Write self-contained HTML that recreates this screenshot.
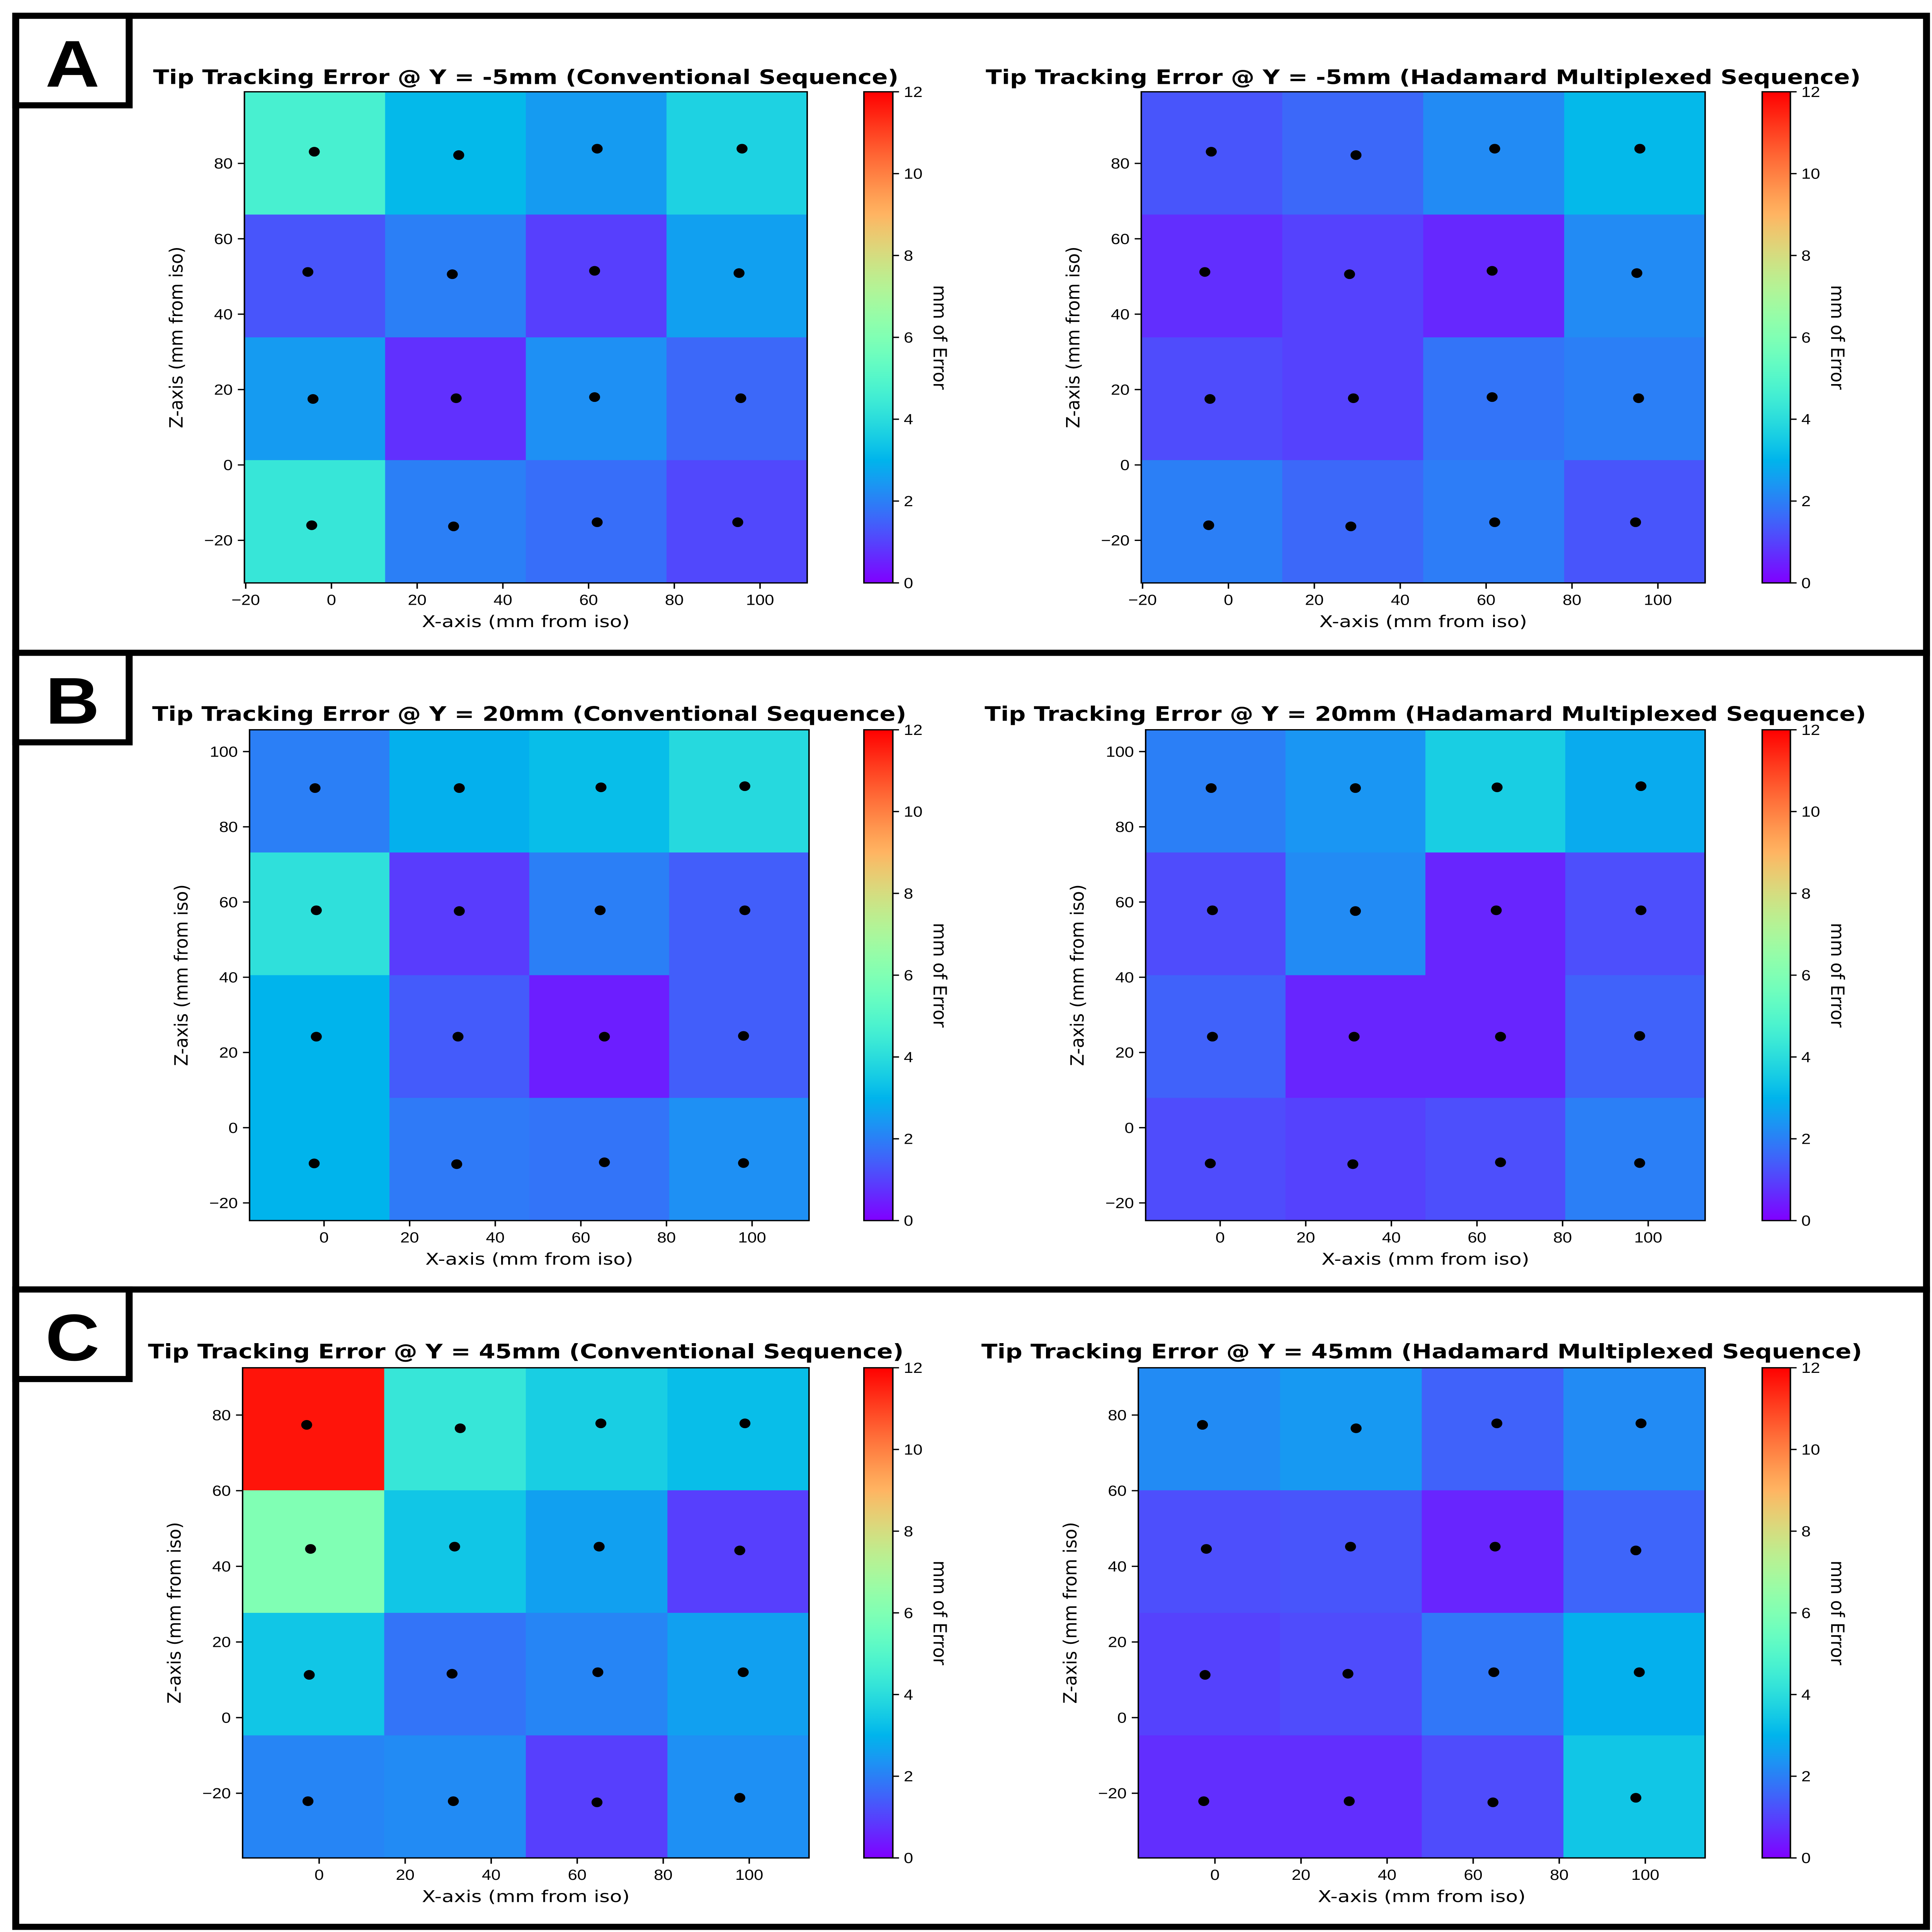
<!DOCTYPE html>
<html><head><meta charset="utf-8">
<style>
html,body{margin:0;padding:0;background:#fff;width:100%;height:100%;overflow:hidden;}
svg{display:block;width:100vw;height:100vh;overflow:hidden;}
text{font-family:"Liberation Sans",sans-serif;fill:#000;}
.ttl{font-family:"DejaVu Sans","Liberation Sans",sans-serif;font-weight:bold;font-size:62px;}
.tick{font-size:46px;}
.axl{font-family:"DejaVu Sans","Liberation Sans",sans-serif;font-size:50px;}
.lbl{font-family:"Liberation Sans",sans-serif;font-weight:bold;font-size:205px;}
</style></head>
<body>
<svg id="fig" xmlns="http://www.w3.org/2000/svg" viewBox="0 0 5280 5999" preserveAspectRatio="none">
<rect x="0" y="0" width="5280" height="5999" fill="#fff"/>
</svg>
<script>
// ---------- DATA ----------
const panelLetters = ["A","B","C"];
const panelYs = ["-5mm","20mm","45mm"];
const seqNames = ["Conventional Sequence","Hadamard Multiplexed Sequence"];

// error values (mm), rows top (high Z) -> bottom, cols left -> right
const errA_conv = [[4.7,3.1,2.5,3.7],[1.3,2.0,0.95,2.6],[2.5,0.72,2.3,1.6],[4.3,2.0,1.7,1.1]];
const errA_had  = [[1.3,1.6,2.2,3.1],[0.7,1.0,0.6,2.2],[1.15,1.0,1.8,2.0],[2.0,1.6,1.95,1.3]];
const errB_conv = [[2.0,2.9,3.2,3.9],[4.1,0.9,2.0,1.45],[3.0,1.4,0.45,1.45],[3.0,1.9,1.8,2.3]];
const errB_had  = [[2.0,2.4,3.6,2.8],[1.15,2.2,0.55,1.2],[1.5,0.55,0.55,1.5],[1.15,1.0,1.2,2.0]];
const errC_conv = [[11.7,4.3,3.6,3.2],[6.0,3.4,2.6,0.95],[3.4,1.8,2.1,2.6],[2.1,2.2,0.95,2.3]];
const errC_had  = [[2.2,2.45,1.5,2.2],[1.2,1.3,0.55,1.55],[1.0,1.15,1.85,2.9],[0.7,0.7,1.15,3.4]];

// measured tip positions (mm from iso), same order as cells
const ptsXA = [[-4.0,29.7,62.0,95.8],[-5.5,28.2,61.4,95.1],[-4.3,29.1,61.4,95.5],[-4.6,28.5,62.0,94.8]];
const ptsZA = [[83.1,82.2,83.9,83.9],[51.2,50.6,51.5,50.9],[17.5,17.7,18.0,17.7],[-16.0,-16.3,-15.2,-15.2]];
const ptsXB = [[-2.1,31.6,64.7,98.3],[-1.8,31.6,64.5,98.3],[-1.8,31.3,65.5,98.0],[-2.3,31.0,65.5,98.0]];
const ptsZB = [[90.3,90.3,90.5,90.8],[57.8,57.6,57.8,57.8],[24.2,24.2,24.2,24.4],[-9.5,-9.7,-9.2,-9.4]];
const ptsXC = [[-2.9,32.8,65.5,99.0],[-2.0,31.5,65.1,97.8],[-2.3,30.9,64.8,98.6],[-2.6,31.2,64.6,97.8]];
const ptsZC = [[77.4,76.5,77.8,77.8],[44.6,45.2,45.2,44.2],[11.3,11.6,12.0,12.0],[-22.1,-22.1,-22.4,-21.2]];

// axis domains
const xDomA = [-20.3,111.0], zDomA = [-31.3,99.0];
const xDomB = [-17.4,113.3], zDomB = [-24.7,105.8];
const xDomC = [-17.8,113.9], zDomC = [-37.1,92.5];
const xTicksA = [-20,0,20,40,60,80,100];
const xTicksBC = [0,20,40,60,80,100];
const zTicksA = [-20,0,20,40,60,80];
const zTicksB = [-20,0,20,40,60,80,100];
const zTicksC = [-20,0,20,40,60,80];
const cbTicks = [0,2,4,6,8,10,12];
const cbRange = [0,12];

// ---------- LAYOUT ----------
const NS = "http://www.w3.org/2000/svg";
const svg = document.getElementById("fig");
function mk(tag, attrs, parent){
  const e = document.createElementNS(NS, tag);
  for (const k in attrs) e.setAttribute(k, attrs[k]);
  (parent||svg).appendChild(e);
  return e;
}
function rainbow(v){
  const x = Math.max(0, Math.min(1, (v-cbRange[0])/(cbRange[1]-cbRange[0])));
  const c = t => Math.round(255*Math.max(0,Math.min(1,t)));
  return "rgb("+c(Math.abs(2*x-0.5))+","+c(Math.sin(Math.PI*x))+","+c(Math.cos(Math.PI*x/2))+")";
}
function fmt(v){ return v<0 ? "\u2212"+Math.abs(v) : String(v); }

const defs = mk("defs",{});
const grad = mk("linearGradient",{id:"rb",x1:"0",y1:"1",x2:"0",y2:"0"},defs);
for (let i=0;i<=40;i++){
  const v = cbRange[0]+(cbRange[1]-cbRange[0])*i/40;
  mk("stop",{offset:(i/40).toFixed(3),"stop-color":rainbow(v)},grad);
}

const panels = [
  {top:49,bot:2027, y0:285,y1:1810, xs:[[668,2206],[3119,4660]], xDom:xDomA, zDom:zDomA, xT:xTicksA, zT:zTicksA,
   errs:[errA_conv,errA_had], px:ptsXA, pz:ptsZA, titleY:261, tLen:[2037,2391]},
  {top:2027,bot:4004, y0:2266,y1:3790, xs:[[682,2211],[3131,4660]], xDom:xDomB, zDom:zDomB, xT:xTicksBC, zT:zTicksB,
   errs:[errB_conv,errB_had], px:ptsXB, pz:ptsZB, titleY:2238, tLen:[2061,2409]},
  {top:4004,bot:5983, y0:4247,y1:5769, xs:[[663,2211],[3111,4660]], xDom:xDomC, zDom:zDomC, xT:xTicksBC, zT:zTicksC,
   errs:[errC_conv,errC_had], px:ptsXC, pz:ptsZC, titleY:4218, tLen:[2065,2407]}
];
const cbX = [[2361,2440],[4816,4893]];

panels.forEach((P, pi) => {
  const g = mk("g",{});
  
  
  const frame = mk("rect",{x:43,y:P.top,width:5222,height:P.bot-P.top,fill:"none",stroke:"#000","stroke-width":19},g);
  
  
  const box = mk("rect",{x:43,y:P.top,width:310,height:278,fill:"#fff",stroke:"#000","stroke-width":19},g);
  
  
  const lt = mk("text",{x:198,y:P.top+220,"text-anchor":"middle",class:"lbl"},g);
  lt.textContent = panelLetters[pi];
  
  

  [0,1].forEach(si => {
    const ax = mk("g",{},g);
    
    
    const L = P.xs[si][0], R = P.xs[si][1], T = P.y0, B = P.y1;
    const sx = v => L + (v-P.xDom[0])/(P.xDom[1]-P.xDom[0])*(R-L);
    const sz = v => B - (v-P.zDom[0])/(P.zDom[1]-P.zDom[0])*(B-T);
    const err = P.errs[si];
    const nR = err.length, nC = err[0].length;
    const cw = (P.xDom[1]-P.xDom[0])/nC, ch = (P.zDom[1]-P.zDom[0])/nR;
    for (let r=0;r<nR;r++) for (let c=0;c<nC;c++){
      const xa = sx(P.xDom[0]+c*cw), xb = sx(P.xDom[0]+(c+1)*cw);
      const za = sz(P.zDom[1]-r*ch), zb = sz(P.zDom[1]-(r+1)*ch);
      const cell = mk("rect",{x:xa,y:za,width:xb-xa+0.6,height:zb-za+0.6,fill:rainbow(err[r][c])},ax);
      
      
    }
    for (let r=0;r<nR;r++) for (let c=0;c<nC;c++){
      const d = mk("ellipse",{cx:sx(P.px[r][c]),cy:sz(P.pz[r][c]),rx:15,ry:15,fill:"#000"},ax);
      
      
    }
    const fr = mk("rect",{x:L,y:T,width:R-L,height:B-T,fill:"none",stroke:"#000","stroke-width":4},ax);
    
    
    P.xT.forEach(t => {
      const x = sx(t);
      mk("line",{x1:x,y1:B,x2:x,y2:B+18,stroke:"#000","stroke-width":4},ax);
      const tx = mk("text",{x:x,y:B+68,"text-anchor":"middle",class:"tick"},ax);
      tx.textContent = fmt(t);
      
      
    });
    P.zT.forEach(t => {
      const y = sz(t);
      mk("line",{x1:L-18,y1:y,x2:L,y2:y,stroke:"#000","stroke-width":4},ax);
      const tx = mk("text",{x:L-32,y:y+16,"text-anchor":"end",class:"tick"},ax);
      tx.textContent = fmt(t);
      
      
    });
    const xl = mk("text",{x:(L+R)/2,y:B+137,"text-anchor":"middle",class:"axl",textLength:568,lengthAdjust:"spacingAndGlyphs"},ax);
    xl.textContent = "X-axis (mm from iso)";
    
    
    const yc = (T+B)/2, xc = L-186;
    const yl = mk("text",{x:xc,y:yc,"text-anchor":"middle","dominant-baseline":"central",class:"axl",transform:"rotate(-90 "+xc+" "+yc+")",textLength:564,lengthAdjust:"spacingAndGlyphs"},ax);
    yl.textContent = "Z-axis (mm from iso)";
    
    
    const tt = mk("text",{x:(L+R)/2,y:P.titleY,"text-anchor":"middle",class:"ttl",textLength:P.tLen[si],lengthAdjust:"spacingAndGlyphs"},ax);
    tt.textContent = "Tip Tracking Error @ Y = "+panelYs[pi]+" ("+seqNames[si]+")";
    
    

    const cL = cbX[si][0], cR = cbX[si][1];
    const cb = mk("rect",{x:cL,y:T,width:cR-cL,height:B-T,fill:"url(#rb)",stroke:"#000","stroke-width":4},ax);
    
    
    const sc = v => B - (v-cbRange[0])/(cbRange[1]-cbRange[0])*(B-T);
    cbTicks.forEach(t => {
      const y = sc(t);
      mk("line",{x1:cR,y1:y,x2:cR+17,y2:y,stroke:"#000","stroke-width":4},ax);
      const tx = mk("text",{x:cR+30,y:y+16,class:"tick"},ax);
      tx.textContent = String(t);
      
      
    });
    const cx = cR+128;
    const cl = mk("text",{x:cx,y:yc,"text-anchor":"middle","dominant-baseline":"central",class:"axl",transform:"rotate(90 "+cx+" "+yc+")",textLength:325,lengthAdjust:"spacingAndGlyphs"},ax);
    cl.textContent = "mm of Error";
    
    
  });
});
</script>
</body></html>
